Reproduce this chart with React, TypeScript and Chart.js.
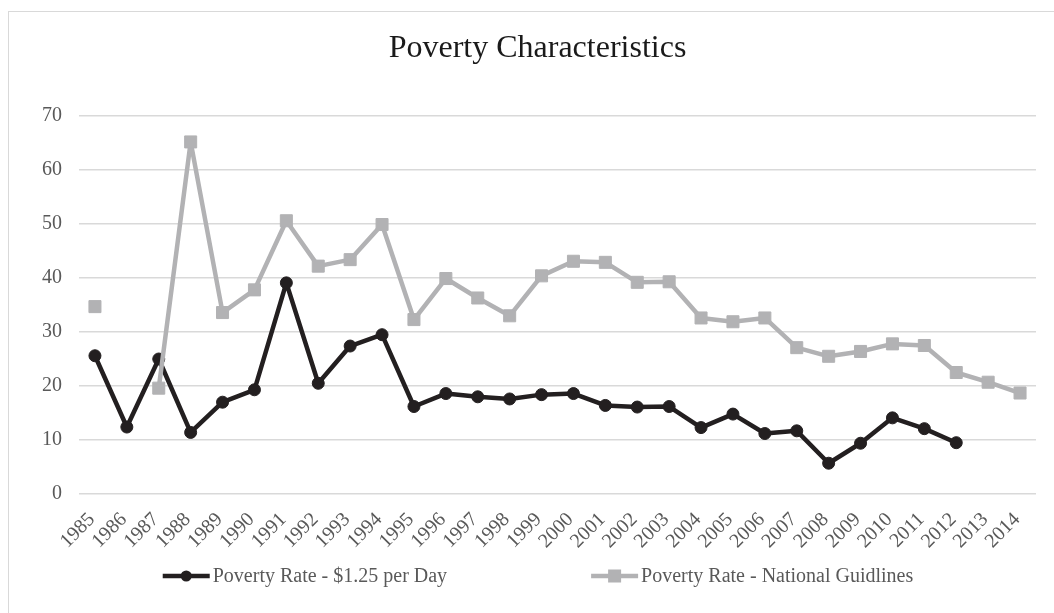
import React, { useEffect, useRef } from "react";
import { Chart, registerables } from "chart.js";

Chart.register(...registerables);

const years: string[] = [
  "1985", "1986", "1987", "1988", "1989", "1990", "1991", "1992", "1993", "1994",
  "1995", "1996", "1997", "1998", "1999", "2000", "2001", "2002", "2003", "2004",
  "2005", "2006", "2007", "2008", "2009", "2010", "2011", "2012", "2013", "2014",
];

const rateDollar: (number | null)[] = [
  25.6, 12.4, 25.0, 11.4, 17.0, 19.3, 39.1, 20.5, 27.4, 29.5,
  16.2, 18.6, 18.0, 17.6, 18.4, 18.6, 16.4, 16.1, 16.2, 12.3,
  14.8, 11.2, 11.7, 5.7, 9.4, 14.1, 12.1, 9.5, null, null,
];

const rateNational: (number | null)[] = [
  34.7, null, 19.6, 65.2, 33.6, 37.8, 50.6, 42.2, 43.4, 49.9,
  32.3, 39.9, 36.3, 33.0, 40.4, 43.1, 42.9, 39.2, 39.3, 32.6,
  31.9, 32.6, 27.1, 25.5, 26.4, 27.8, 27.5, 22.5, 20.7, 18.7,
];

const seriesNames: string[] = [
  "Poverty Rate - $1.25 per Day",
  "Poverty Rate - National Guidlines",
];

const titleText = "Poverty Characteristics";

const BLACK = "#231f20";
const GRAY = "#b2b2b4";
const TEXT_GRAY = "#595959";
const GRID = "#d9d9d9";
const FONT = "'Liberation Serif', 'Times New Roman', serif";

const excelPlugin = {
  id: "excelLegend",
  afterLayout(chart: any) {
    // centre the title on the outer chart frame like the original
    if (chart.titleBlock) {
      chart.titleBlock.left = 39;
    }
  },
  afterDraw(chart: any) {
    const ctx = chart.ctx as CanvasRenderingContext2D;
    ctx.save();
    ctx.font = `20px ${FONT}`;
    const lineLen = 47;
    const gapText = 3;
    const gapItems = 144;
    const widths = seriesNames.map((n) => lineLen + gapText + ctx.measureText(n).width);
    const total = widths[0] + gapItems + widths[1];
    const center = chart.width / 2 + 11;
    const y = chart.chartArea.bottom + 82;
    let x = center - total / 2;
    const colors = [BLACK, GRAY];
    seriesNames.forEach((name, i) => {
      ctx.strokeStyle = colors[i];
      ctx.fillStyle = colors[i];
      ctx.lineWidth = 4.5;
      ctx.lineCap = "butt";
      ctx.beginPath();
      ctx.moveTo(x, y);
      ctx.lineTo(x + lineLen, y);
      ctx.stroke();
      const cx = x + lineLen / 2;
      if (i === 0) {
        ctx.beginPath();
        ctx.arc(cx, y, 5.5, 0, Math.PI * 2);
        ctx.fill();
      } else {
        ctx.fillRect(cx - 6.5, y - 6.5, 13, 13);
      }
      ctx.fillStyle = TEXT_GRAY;
      ctx.textAlign = "left";
      ctx.textBaseline = "middle";
      ctx.fillText(name, x + lineLen + gapText, y + 1);
      x += widths[i] + gapItems;
    });
    ctx.restore();
  },
};

function PovertyChart() {
  const canvasRef = useRef<HTMLCanvasElement | null>(null);

  useEffect(() => {
    if (!canvasRef.current) return;
    const chart = new Chart(canvasRef.current, {
      type: "line",
      data: {
        labels: years,
        datasets: [
          {
            label: seriesNames[0],
            data: rateDollar,
            borderColor: BLACK,
            backgroundColor: BLACK,
            borderWidth: 4.5,
            borderJoinStyle: "round",
            pointStyle: "circle",
            pointRadius: 6,
            pointBorderWidth: 1,
            pointBackgroundColor: BLACK,
            pointBorderColor: BLACK,
            tension: 0,
            spanGaps: false,
            order: 1,
          },
          {
            label: seriesNames[1],
            data: rateNational,
            borderColor: GRAY,
            backgroundColor: GRAY,
            borderWidth: 4.5,
            borderJoinStyle: "round",
            pointStyle: "rect",
            pointRadius: 8.5,
            pointBorderWidth: 1,
            pointBackgroundColor: GRAY,
            pointBorderColor: GRAY,
            tension: 0,
            spanGaps: false,
            order: 0,
          },
        ],
      },
      options: {
        animation: false,
        responsive: true,
        maintainAspectRatio: false,
        layout: { padding: { left: 0, right: 18, top: 0, bottom: 49 } },
        plugins: {
          legend: { display: false },
          tooltip: { enabled: false },
          title: {
            display: true,
            text: titleText,
            color: "#1a1a1a",
            font: { family: FONT, size: 32, weight: "normal" },
            padding: { top: 29, bottom: 48.6 },
          },
        },
        scales: {
          x: {
            offset: true,
            grid: { display: false },
            border: { display: false },
            ticks: {
              color: TEXT_GRAY,
              font: { family: FONT, size: 20 },
              maxRotation: 45,
              minRotation: 45,
              autoSkip: false,
              padding: 6,
              labelOffset: -3,
            },
            afterFit: (scale: any) => {
              scale.height = 70;
            },
          },
          y: {
            min: 0,
            max: 70,
            grid: { color: GRID, lineWidth: 1.5, drawTicks: false },
            border: { display: false },
            ticks: {
              stepSize: 10,
              color: TEXT_GRAY,
              font: { family: FONT, size: 20 },
              padding: 17,
            },
            afterFit: (scale: any) => {
              scale.width = 79;
            },
          },
        },
      },
      plugins: [excelPlugin],
    });
    return () => chart.destroy();
  }, []);

  return <canvas ref={canvasRef} />;
}

export default function App() {
  return (
    <div
      style={{
        position: "fixed",
        left: 0,
        top: 0,
        width: 1054,
        height: 613,
        overflow: "hidden",
        background: "#ffffff",
      }}
    >
      <div
        style={{
          position: "absolute",
          left: 8,
          top: 11,
          width: 1100,
          height: 700,
          border: "1.5px solid #d9d9d9",
          pointerEvents: "none",
        }}
      />
      <div style={{ position: "absolute", left: 0, top: 0, width: 1054, height: 613 }}>
        <PovertyChart />
      </div>
    </div>
  );
}
